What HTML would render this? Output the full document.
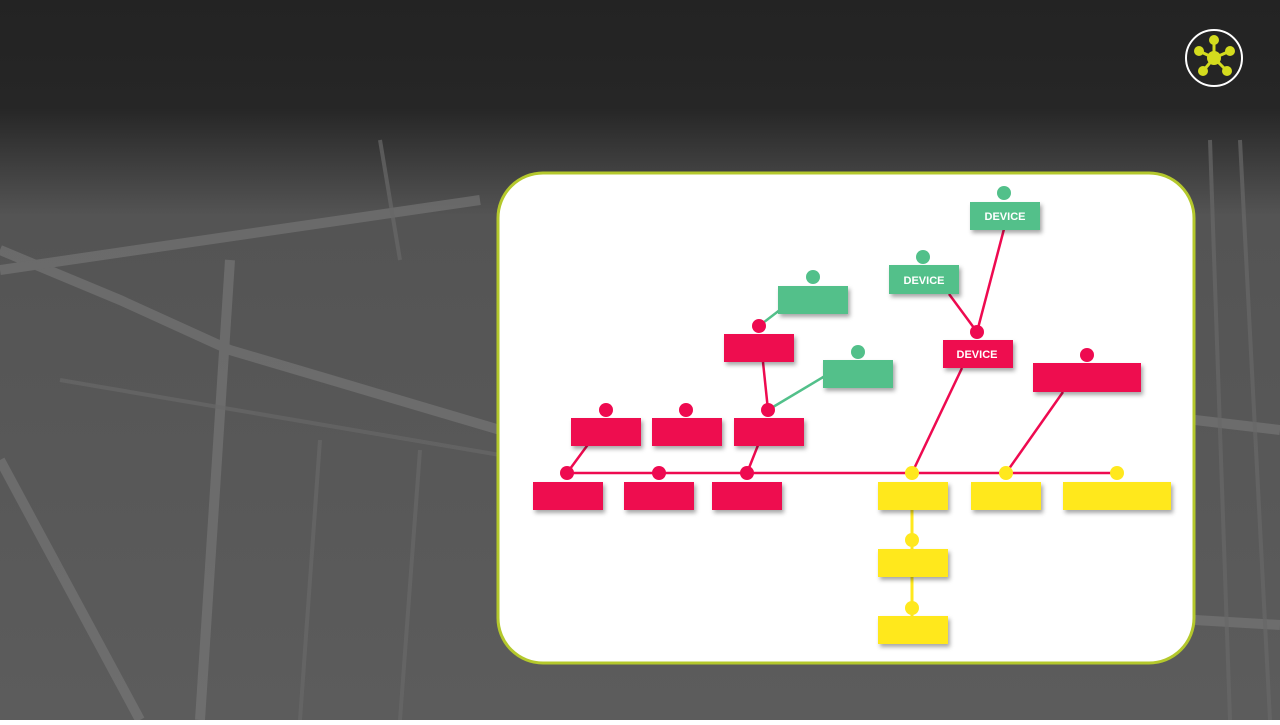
<!DOCTYPE html>
<html><head><meta charset="utf-8"><style>
body{margin:0;width:1280px;height:720px;overflow:hidden;font-family:"Liberation Sans",sans-serif}
</style></head><body>
<svg width="1280" height="720" viewBox="0 0 1280 720" xmlns="http://www.w3.org/2000/svg">
<defs>
<linearGradient id="bg" x1="0" y1="0" x2="0" y2="1">
<stop offset="0" stop-color="#232323"/><stop offset="0.15" stop-color="#262626"/><stop offset="0.3" stop-color="#545454"/><stop offset="1" stop-color="#5c5c5c"/>
</linearGradient>
<filter id="sh" x="-20%" y="-20%" width="150%" height="160%"><feDropShadow dx="2" dy="3" stdDeviation="2" flood-opacity="0.35"/></filter>
</defs>
<rect width="1280" height="720" fill="url(#bg)"/>
<g stroke="#7a7a7a" stroke-width="10" fill="none" opacity="0.6">
<path d="M0 250 L120 300 L230 350 L500 430"/>
<path d="M0 270 L480 200"/>
<path d="M230 260 L200 720"/>
<path d="M0 460 L140 720"/>
<path d="M1195 420 L1280 430"/>
<path d="M1195 620 L1280 625"/>
</g>
<g stroke="#686868" stroke-width="4" fill="none" opacity="0.7">
<path d="M60 380 L500 455"/><path d="M320 440 L300 720"/><path d="M420 450 L400 720"/><path d="M380 140 L400 260"/>
<path d="M1210 140 L1230 720"/><path d="M1240 140 L1270 720"/>
</g>
<rect x="498" y="173" width="696" height="490" rx="45" fill="#fff" stroke="#b4c82c" stroke-width="3"/>
<g stroke="#ee0a50" stroke-width="2.5" fill="none">
<line x1="567" y1="473" x2="1117" y2="473"/>
<line x1="567" y1="473" x2="606" y2="420"/>
<line x1="747" y1="473" x2="768" y2="420"/>
<line x1="768" y1="410" x2="763" y2="362"/>
<line x1="912" y1="473" x2="962" y2="368"/>
<line x1="1006" y1="473" x2="1063" y2="392"/>
<line x1="977" y1="332" x2="1004" y2="229"/>
<line x1="977" y1="332" x2="949" y2="294"/>
</g>
<g stroke="#52c08a" stroke-width="2.5">
<line x1="768" y1="410" x2="835" y2="370"/>
<line x1="759" y1="326" x2="785" y2="306"/>
</g>
<line x1="912" y1="500" x2="912" y2="620" stroke="#ffe81e" stroke-width="3"/>
<g filter="url(#sh)">
<g fill="#ee0a50">
<rect x="533" y="482" width="70" height="28"/><rect x="624" y="482" width="70" height="28"/><rect x="712" y="482" width="70" height="28"/>
<rect x="571" y="418" width="70" height="28"/><rect x="652" y="418" width="70" height="28"/><rect x="734" y="418" width="70" height="28"/>
<rect x="724" y="334" width="70" height="28"/><rect x="943" y="340" width="70" height="28"/><rect x="1033" y="363" width="108" height="29"/>
</g>
<g fill="#52c08a">
<rect x="778" y="286" width="70" height="28"/><rect x="823" y="360" width="70" height="28"/><rect x="889" y="265" width="70" height="29"/><rect x="970" y="202" width="70" height="28"/>
</g>
<g fill="#ffe81e">
<rect x="878" y="482" width="70" height="28"/><rect x="971" y="482" width="70" height="28"/><rect x="1063" y="482" width="108" height="28"/>
<rect x="878" y="549" width="70" height="28"/><rect x="878" y="616" width="70" height="28"/>
</g>
</g>
<g fill="#ee0a50">
<circle cx="567" cy="473" r="7"/><circle cx="659" cy="473" r="7"/><circle cx="747" cy="473" r="7"/>
<circle cx="606" cy="410" r="7"/><circle cx="686" cy="410" r="7"/><circle cx="768" cy="410" r="7"/>
<circle cx="759" cy="326" r="7"/><circle cx="977" cy="332" r="7"/><circle cx="1087" cy="355" r="7"/>
</g>
<g fill="#52c08a"><circle cx="813" cy="277" r="7"/><circle cx="858" cy="352" r="7"/><circle cx="923" cy="257" r="7"/><circle cx="1004" cy="193" r="7"/></g>
<g fill="#ffe81e"><circle cx="912" cy="473" r="7"/><circle cx="1006" cy="473" r="7"/><circle cx="1117" cy="473" r="7"/><circle cx="912" cy="540" r="7"/><circle cx="912" cy="608" r="7"/></g>
<g fill="#fff" font-size="11" font-weight="bold" text-anchor="middle">
<text x="1005" y="220">DEVICE</text><text x="924" y="284">DEVICE</text><text x="977" y="358">DEVICE</text>
</g>
<circle cx="1214" cy="58" r="28" fill="none" stroke="#fff" stroke-width="2"/>
<g stroke="#d4dc1e" stroke-width="3"><line x1="1214" y1="58" x2="1214" y2="40"/><line x1="1214" y1="58" x2="1199" y2="51"/><line x1="1214" y1="58" x2="1230" y2="51"/><line x1="1214" y1="58" x2="1203" y2="71"/><line x1="1214" y1="58" x2="1227" y2="71"/></g>
<g fill="#d4dc1e"><circle cx="1214" cy="58" r="7"/><circle cx="1214" cy="40" r="5"/><circle cx="1199" cy="51" r="5"/><circle cx="1230" cy="51" r="5"/><circle cx="1203" cy="71" r="5"/><circle cx="1227" cy="71" r="5"/></g>
</svg>
</body></html>
